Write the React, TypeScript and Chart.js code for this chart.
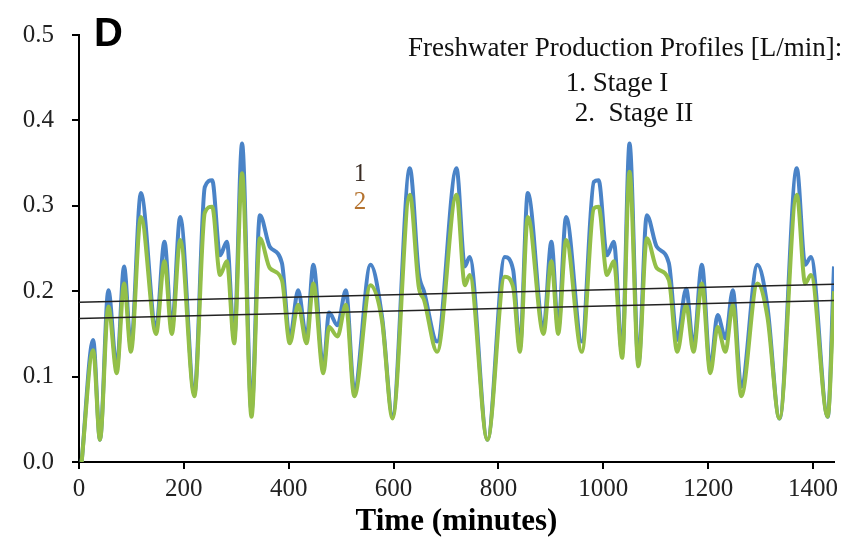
import React, { useEffect, useRef } from "react";
import { Chart, registerables } from "chart.js";

Chart.register(...registerables);

// Time of each sampled turning point (minutes)
const minutes = [
  5, 27, 40, 56, 72, 86, 99, 118, 147, 163, 177, 193, 220, 240, 254, 269, 282, 296, 311, 329,
  345, 364, 387, 402, 418, 434, 447, 466, 477, 493, 509, 525, 556, 578, 598, 631, 648, 658, 683, 720,
  736, 745, 779, 812, 828, 841, 856, 886, 901, 914, 929, 959, 982, 991, 1007, 1020, 1036, 1050, 1067, 1083,
  1102, 1125, 1141, 1158, 1172, 1188, 1204, 1218, 1233, 1247, 1263, 1294, 1313, 1336, 1369, 1385, 1396, 1428, 1440,
];

// Freshwater production, Stage I (L/min)
const stageI = [
  0.0, 0.143, 0.026, 0.201, 0.11, 0.229, 0.135, 0.315, 0.157, 0.258, 0.157, 0.287, 0.08, 0.322, 0.33, 0.242, 0.258, 0.145, 0.373, 0.06,
  0.289, 0.252, 0.233, 0.145, 0.201, 0.145, 0.231, 0.11, 0.175, 0.16, 0.201, 0.084, 0.231, 0.17, 0.055, 0.344, 0.221, 0.2, 0.141, 0.344,
  0.229, 0.24, 0.026, 0.24, 0.225, 0.135, 0.315, 0.157, 0.258, 0.157, 0.287, 0.141, 0.328, 0.33, 0.242, 0.258, 0.127, 0.373, 0.116, 0.289,
  0.252, 0.233, 0.143, 0.203, 0.135, 0.231, 0.11, 0.172, 0.145, 0.201, 0.088, 0.231, 0.182, 0.051, 0.344, 0.231, 0.24, 0.053, 0.229,
];

// Freshwater production, Stage II (L/min)
const stageII = [
  0.0, 0.131, 0.026, 0.182, 0.104, 0.209, 0.129, 0.287, 0.15, 0.235, 0.15, 0.26, 0.077, 0.292, 0.299, 0.219, 0.235, 0.139, 0.338, 0.053,
  0.262, 0.227, 0.213, 0.139, 0.184, 0.139, 0.209, 0.104, 0.158, 0.147, 0.184, 0.077, 0.207, 0.165, 0.051, 0.313, 0.205, 0.19, 0.129, 0.313,
  0.207, 0.219, 0.026, 0.217, 0.205, 0.129, 0.287, 0.15, 0.235, 0.15, 0.26, 0.129, 0.297, 0.299, 0.219, 0.235, 0.122, 0.34, 0.112, 0.262,
  0.227, 0.213, 0.129, 0.184, 0.129, 0.209, 0.104, 0.158, 0.129, 0.184, 0.077, 0.209, 0.17, 0.051, 0.313, 0.209, 0.219, 0.053, 0.2,
];

// Linear trend lines through each profile
const trendMinutes = [0, 1440];
const trendI = [0.187, 0.208];
const trendII = [0.168, 0.189];

const xTicks = [0, 200, 400, 600, 800, 1000, 1200, 1400];
const yTicks = [0.0, 0.1, 0.2, 0.3, 0.4, 0.5];

const serif = "'Liberation Serif', 'Times New Roman', serif";

const toPoints = (xs: number[], ys: number[]) => xs.map((x, i) => ({ x, y: ys[i] }));

const annotations = {
  id: "annotations",
  afterDraw(chart: Chart) {
    const { ctx } = chart;
    ctx.save();
    ctx.textBaseline = "middle";

    ctx.fillStyle = "#000";
    ctx.font = "bold 40px 'Liberation Sans', Arial, sans-serif";
    ctx.textAlign = "left";
    ctx.fillText("D", 94, 35);

    ctx.fillStyle = "#111";
    ctx.font = `27px ${serif}`;
    ctx.textAlign = "left";
    ctx.fillText("Freshwater Production Profiles [L/min]:", 408, 49);
    ctx.textAlign = "center";
    ctx.fillText("1. Stage I", 617, 84);
    ctx.fillText("2.  Stage II", 634, 114);

    ctx.font = `25px ${serif}`;
    ctx.fillStyle = "#3a2c24";
    ctx.fillText("1", 360, 174);
    ctx.fillStyle = "#b5732f";
    ctx.fillText("2", 360, 202);
    ctx.restore();
  },
};

export default function App() {
  const canvasRef = useRef<HTMLCanvasElement | null>(null);

  useEffect(() => {
    if (!canvasRef.current) return;
    const chart = new Chart(canvasRef.current, {
      type: "line",
      data: {
        datasets: [
          {
            label: "Trend Stage I",
            data: toPoints(trendMinutes, trendI),
            borderColor: "#222",
            borderWidth: 1.5,
            pointRadius: 0,
            order: 0,
          },
          {
            label: "Trend Stage II",
            data: toPoints(trendMinutes, trendII),
            borderColor: "#222",
            borderWidth: 1.5,
            pointRadius: 0,
            order: 0,
          },
          {
            label: "Stage II",
            data: toPoints(minutes, stageII),
            borderColor: "#93bf48",
            borderWidth: 4,
            pointRadius: 0,
            cubicInterpolationMode: "monotone",
            order: 1,
          },
          {
            label: "Stage I",
            data: toPoints(minutes, stageI),
            borderColor: "#4a83c7",
            borderWidth: 4,
            pointRadius: 0,
            cubicInterpolationMode: "monotone",
            order: 2,
          },
        ],
      },
      options: {
        responsive: false,
        animation: false,
        layout: { padding: { left: 0, right: 22, top: 35, bottom: 0 } },
        plugins: {
          legend: { display: false },
          tooltip: { enabled: false },
        },
        scales: {
          x: {
            type: "linear",
            min: 0,
            max: 1440,
            afterBuildTicks: (scale: any) => {
              scale.ticks = xTicks.map((v) => ({ value: v }));
            },
            afterFit: (scale: any) => {
              scale.height = 80;
            },
            border: { display: true, color: "#000", width: 2 },
            grid: {
              display: true,
              drawOnChartArea: false,
              drawTicks: true,
              tickLength: 7,
              color: "#000",
              lineWidth: 2,
            },
            ticks: {
              color: "#222",
              font: { family: serif, size: 25 },
              padding: 5,
              maxRotation: 0,
              autoSkip: false,
              callback: (v: any) => String(v),
            },
            title: {
              display: true,
              text: "Time (minutes)",
              color: "#000",
              font: { family: serif, size: 31, weight: "bold" },
              padding: { top: 0, bottom: 1 },
            },
          },
          y: {
            type: "linear",
            min: 0,
            max: 0.5,
            afterBuildTicks: (scale: any) => {
              scale.ticks = yTicks.map((v) => ({ value: v }));
            },
            afterFit: (scale: any) => {
              scale.width = 79;
            },
            border: { display: true, color: "#000", width: 2 },
            grid: {
              display: true,
              drawOnChartArea: false,
              drawTicks: true,
              tickLength: 7,
              color: "#000",
              lineWidth: 2,
            },
            ticks: {
              color: "#222",
              font: { family: serif, size: 25 },
              padding: 18,
              callback: (v: any) => Number(v).toFixed(1),
            },
          },
        },
      },
      plugins: [annotations],
    });
    return () => chart.destroy();
  }, []);

  return (
    <div style={{ position: "fixed", left: 0, top: 0, width: 856, height: 542, background: "#fff" }}>
      <canvas ref={canvasRef} width={856} height={542} style={{ width: 856, height: 542 }} />
    </div>
  );
}
